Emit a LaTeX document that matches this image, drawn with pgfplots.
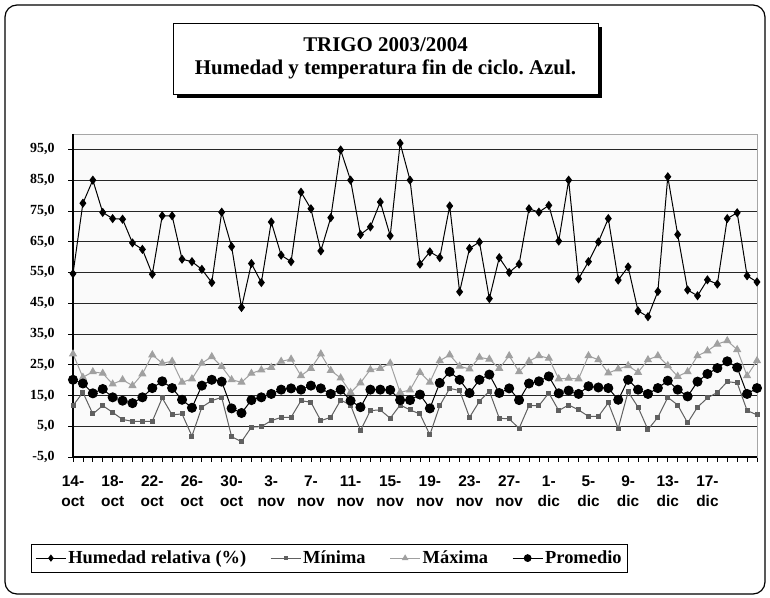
\documentclass[border=0pt]{standalone}
\usepackage{pgfplots}
\usepackage{pgfplotstable}
\pgfplotsset{compat=1.18}
\usepackage{fontspec}
\setmainfont{Liberation Serif}
\newfontfamily\arialfont{Liberation Sans}
\frenchspacing
\definecolor{cmin}{HTML}{606060}
\definecolor{cmax}{HTML}{A0A0A0}
\pgfplotstableread{
x h mn mx pr
0 54.6 11.7 28.5 20.1
1 77.5 16.0 20.9 18.9
2 85.0 9.0 22.7 15.7
3 74.5 11.7 22.2 17.1
4 72.5 9.5 18.7 14.4
5 72.3 7.2 20.1 13.3
6 64.6 6.6 18.2 12.5
7 62.5 6.6 22.0 14.4
8 54.4 6.6 28.2 17.4
9 73.4 14.2 25.5 19.6
10 73.4 8.7 26.1 17.4
11 59.3 9.0 19.3 13.6
12 58.5 1.8 20.4 11.0
13 56.0 11.2 25.5 18.2
14 51.7 13.3 27.6 20.1
15 74.6 14.4 24.4 19.5
16 63.4 1.6 20.1 10.8
17 43.6 0.0 19.3 9.3
18 57.9 4.7 22.2 13.5
19 51.7 4.9 23.3 14.4
20 71.4 6.8 24.1 15.5
21 60.6 7.9 26.1 16.9
22 58.5 7.9 26.8 17.3
23 81.1 13.3 21.4 16.9
24 75.7 12.8 23.8 18.2
25 62.0 6.8 28.5 17.3
26 72.8 7.9 23.1 15.5
27 94.8 13.5 20.7 16.9
28 85.0 11.9 16.0 13.3
29 67.3 3.6 19.1 11.2
30 69.8 10.1 23.4 16.9
31 77.9 10.3 23.8 16.9
32 66.9 7.6 25.5 16.8
33 97.0 11.9 16.0 13.5
34 85.0 10.3 16.8 13.5
35 57.7 9.0 22.5 15.3
36 61.7 2.2 19.3 10.8
37 59.8 11.7 26.3 19.1
38 76.6 17.3 28.2 22.7
39 48.7 16.6 24.5 20.1
40 62.8 7.9 23.6 15.8
41 64.9 13.1 27.4 20.1
42 46.5 16.4 26.8 21.8
43 59.8 7.6 23.8 15.8
44 55.0 7.4 27.9 17.3
45 57.7 4.3 22.7 13.5
46 75.7 11.7 26.1 18.9
47 74.6 11.7 27.9 19.6
48 76.8 15.8 27.1 21.2
49 65.2 10.1 20.4 15.7
50 85.0 11.9 20.6 16.6
51 52.9 10.3 20.4 15.5
52 58.5 8.2 27.9 18.0
53 64.9 8.2 26.6 17.6
54 72.5 12.6 22.3 17.4
55 52.5 4.3 23.6 13.6
56 56.8 16.2 24.7 20.1
57 42.5 11.2 22.5 16.9
58 40.6 3.9 26.6 15.5
59 48.8 7.9 27.9 17.4
60 86.1 14.4 24.7 19.8
61 67.3 11.9 21.2 16.9
62 49.3 6.1 22.7 14.7
63 47.4 11.2 27.9 19.5
64 52.6 14.2 29.5 22.0
65 51.2 16.0 31.7 23.9
66 72.5 19.5 32.8 26.1
67 74.4 19.1 29.9 24.1
68 53.9 10.1 21.4 15.5
69 51.9 8.7 26.3 17.4
}\datatable
\begin{document}
\begin{tikzpicture}
\path[use as bounding box] (0,0) rectangle (770bp,598bp);
\draw[line width=1.2bp, rounded corners=12bp] (5bp,4bp) rectangle (765bp,593bp);
% title box
\fill[black] (177bp,500bp) rectangle (602bp,571bp);
\draw[fill=white, line width=0.8bp] (173bp,504bp) rectangle (598bp,575bp);
\node[font=\bfseries\fontsize{21}{21}\selectfont, anchor=base, inner sep=0pt] at (385.5bp,546bp) {TRIGO 2003/2004};
\node[font=\bfseries\fontsize{21}{21}\selectfont, anchor=base, inner sep=0pt] at (385.5bp,523bp) {Humedad y temperatura fin de ciclo. Azul.};
\begin{axis}[
  at={(73bp,141bp)}, anchor=south west,
  scale only axis, width=684bp, height=323bp,
  xmin=0, xmax=69, ymin=-5, ymax=100,
  clip=false,
  xtick={0,4,...,64},
  minor xtick={0,1,...,69},
  xticklabels={{14-\\oct},{18-\\oct},{22-\\oct},{26-\\oct},{30-\\oct},{3-\\nov},{7-\\nov},{11-\\nov},{15-\\nov},{19-\\nov},{23-\\nov},{27-\\nov},{1-\\dic},{5-\\dic},{9-\\dic},{13-\\dic},{17-\\dic}},
  ytick={-5,5,15,25,35,45,55,65,75,85,95},
  yticklabels={{-5,0},{5,0},{15,0},{25,0},{35,0},{45,0},{55,0},{65,0},{75,0},{85,0},{95,0}},
  xtick pos=bottom, ytick pos=left,
  tick align=outside,
  major tick length=5bp, minor tick length=5bp,
  tick style={black, line width=0.8bp},
  xticklabel style={font=\arialfont\bfseries\fontsize{15.5}{20}\selectfont, align=center, yshift=-10bp},
  yticklabel style={font=\bfseries\fontsize{14}{14}\selectfont, xshift=-10bp},
  ymajorgrids,
  major grid style={black!85, line width=0.7bp},
  axis line style={draw=gray!70, line width=0.8bp},
  axis background/.style={fill=gray!4},
  legend columns=4,
  legend style={at={(0.375,-0.313)}, anchor=center, draw=black, line width=0.8bp,
    font=\bfseries\fontsize{18.5}{20}\selectfont, inner xsep=4bp, inner ysep=5bp,
    /tikz/every even column/.append style={column sep=22bp}},
  legend image code/.code={\draw[mark repeat=2,mark phase=2,mark options={scale=0.75}] plot coordinates {(0bp,0bp) (15bp,0bp) (30bp,0bp)};},
]
\addplot[black, line width=1bp, mark=diamond*, mark size=3.8bp] table[x=x,y=h]{\datatable};
\addlegendentry{Humedad relativa (\%)}
\addplot[cmin, line width=1bp, mark=square*, mark size=2bp] table[x=x,y=mn]{\datatable};
\addlegendentry{Mínima}
\addplot[cmax, line width=1bp, mark=triangle*, mark size=3.8bp] table[x=x,y=mx]{\datatable};
\addlegendentry{Máxima}
\addplot[black, line width=1bp, mark=*, mark size=4.5bp] table[x=x,y=pr]{\datatable};
\addlegendentry{Promedio}
\draw[black, line width=1.2bp] (rel axis cs:0,1) -- (rel axis cs:0,0) -- (rel axis cs:1,0);
\end{axis}
\end{tikzpicture}
\end{document}
